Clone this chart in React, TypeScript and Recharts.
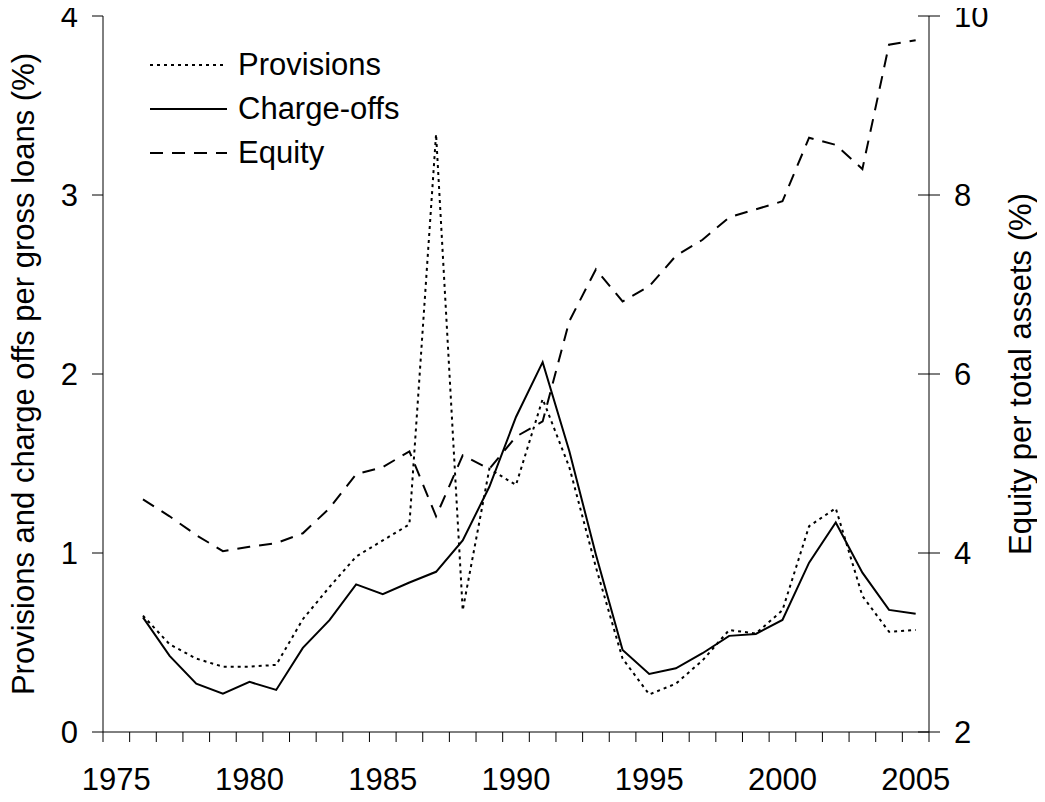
import { LineChart, Line, XAxis, YAxis, Legend } from "recharts";

const years = [
  1975, 1976, 1977, 1978, 1979, 1980, 1981, 1982, 1983, 1984, 1985, 1986, 1987, 1988, 1989, 1990,
  1991, 1992, 1993, 1994, 1995, 1996, 1997, 1998, 1999, 2000, 2001, 2002, 2003, 2004, 2005,
];

// 1975 has no observation, the series start in 1976
const provisions = [
  null, 0.65, 0.49, 0.41, 0.365, 0.365, 0.375, 0.63, 0.81, 0.98, 1.07, 1.16, 3.34, 0.68, 1.47, 1.38,
  1.86, 1.48, 0.92, 0.41, 0.21, 0.27, 0.4, 0.57, 0.55, 0.68, 1.15, 1.25, 0.76, 0.56, 0.57,
];

const chargeOffs = [
  null, 0.64, 0.425, 0.27, 0.214, 0.28, 0.235, 0.47, 0.625, 0.825, 0.77, 0.835, 0.895, 1.07, 1.37, 1.76,
  2.066, 1.57, 0.99, 0.458, 0.324, 0.356, 0.44, 0.537, 0.548, 0.626, 0.946, 1.17, 0.89, 0.682, 0.66,
];

const equity = [
  null, 4.6, 4.41, 4.2, 4.02, 4.07, 4.11, 4.22, 4.5, 4.88, 4.96, 5.135, 4.41, 5.09, 4.94, 5.3,
  5.47, 6.59, 7.17, 6.81, 6.98, 7.32, 7.5, 7.75, 7.84, 7.93, 8.64, 8.56, 8.29, 9.68, 9.73,
];

const leftTicks = [0, 1, 2, 3, 4];
const rightTicks = [2, 4, 6, 8, 10];

const data = years.map((year, i) => ({
  year,
  provisions: provisions[i],
  chargeOffs: chargeOffs[i],
  equity: equity[i],
}));

const FONT = '"Liberation Sans", Arial, sans-serif';
const FS = 31;
const TICK = 11;
const GAP = 14;

const legendItems = [
  { label: "Provisions", dash: "3 4" },
  { label: "Charge-offs", dash: undefined },
  { label: "Equity", dash: "13 9" },
];

const XTick = ({ x, y, payload }: any) => {
  const half = payload.offset || 0;
  const year = payload.value;
  return (
    <g>
      <line x1={x - half} x2={x - half} y1={y} y2={y + 10} stroke="#000" />
      {payload.index === years.length - 1 && (
        <line x1={x + half} x2={x + half} y1={y} y2={y + 10} stroke="#000" />
      )}
      {year % 5 === 0 && (
        <text x={x} y={y + 47} dy="0.355em" textAnchor="middle" fontSize={FS} fontFamily={FONT} fill="#000">
          {year}
        </text>
      )}
    </g>
  );
};

const LeftTick = ({ x, y, payload }: any) => (
  <text x={x} y={y} dy="0.355em" textAnchor="end" fontSize={FS} fontFamily={FONT} fill="#000">
    {payload.value}
  </text>
);

const RightTick = ({ x, y, payload }: any) => {
  const axisX = x - GAP - TICK;
  return (
    <g>
      <line x1={axisX - TICK} x2={axisX} y1={y} y2={y} stroke="#000" />
      <text x={x} y={y} dy="0.355em" textAnchor="start" fontSize={FS} fontFamily={FONT} fill="#000">
        {payload.value}
      </text>
    </g>
  );
};

const AxisTitle = ({ viewBox, value, dx }: any) => {
  const cx = viewBox.x + dx;
  const cy = viewBox.y + viewBox.height / 2;
  return (
    <text
      x={cx}
      y={cy}
      dy="0.355em"
      transform={`rotate(-90 ${cx} ${cy})`}
      textAnchor="middle"
      fontSize={FS}
      fontFamily={FONT}
      fill="#000"
    >
      {value}
    </text>
  );
};

const renderLegend = () => (
  <div style={{ fontFamily: FONT, fontSize: FS, color: "#000" }}>
    {legendItems.map((item) => (
      <div key={item.label} style={{ display: "flex", alignItems: "center", height: 44 }}>
        <svg width={77} height={6} style={{ marginRight: 11 }}>
          <line x1={0} x2={77} y1={3} y2={3} stroke="#000" strokeWidth={2} strokeDasharray={item.dash} />
        </svg>
        <span>{item.label}</span>
      </div>
    ))}
  </div>
);

export default function App() {
  // pull the chart over the body margin so it fills the whole page
  return (
    <div style={{ width: 1045, height: 802, margin: "-8px 0 0 -8px", fontFamily: FONT }}>
      <LineChart width={1045} height={802} data={data} margin={{ top: 16, right: 0, bottom: 0, left: 8 }}>
        <XAxis
          dataKey="year"
          scale="band"
          interval={0}
          height={70}
          tickLine={false}
          tickSize={0}
          tickMargin={0}
          axisLine={{ stroke: "#000" }}
          tick={<XTick />}
        />
        <YAxis
          yAxisId="left"
          width={95}
          domain={[0, 4]}
          ticks={leftTicks}
          tickSize={TICK}
          tickMargin={GAP}
          axisLine={{ stroke: "#000" }}
          tickLine={{ stroke: "#000" }}
          tick={<LeftTick />}
          label={<AxisTitle value="Provisions and charge offs per gross loans (%)" dx={15} />}
        />
        <YAxis
          yAxisId="right"
          orientation="right"
          width={116}
          domain={[2, 10]}
          ticks={rightTicks}
          tickSize={TICK}
          tickMargin={GAP}
          axisLine={{ stroke: "#000" }}
          tickLine={{ stroke: "#000" }}
          tick={<RightTick />}
          label={<AxisTitle value="Equity per total assets (%)" dx={91} />}
        />
        <Legend
          layout="vertical"
          align="center"
          verticalAlign="middle"
          content={renderLegend}
          wrapperStyle={{ left: 150, top: 43, width: 320 }}
        />
        <Line
          yAxisId="left"
          type="linear"
          dataKey="provisions"
          stroke="#000"
          strokeWidth={2}
          strokeDasharray="3 4"
          dot={false}
          isAnimationActive={false}
        />
        <Line
          yAxisId="left"
          type="linear"
          dataKey="chargeOffs"
          stroke="#000"
          strokeWidth={2}
          dot={false}
          isAnimationActive={false}
        />
        <Line
          yAxisId="right"
          type="linear"
          dataKey="equity"
          stroke="#000"
          strokeWidth={2}
          strokeDasharray="13 9"
          dot={false}
          isAnimationActive={false}
        />
      </LineChart>
    </div>
  );
}
